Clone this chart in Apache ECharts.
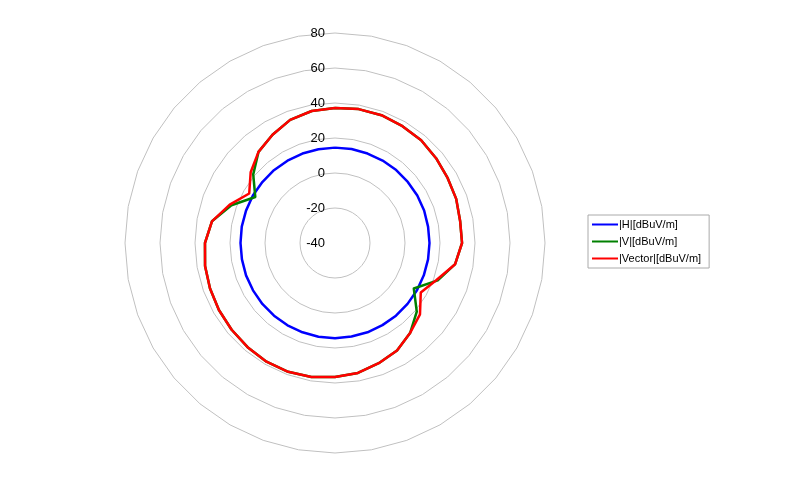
<!DOCTYPE html>
<html><head><meta charset="utf-8">
<script src="https://cdn.jsdelivr.net/npm/echarts@6/dist/echarts.min.js"></script>
<style>html,body{margin:0;padding:0;background:#fff}#c{width:800px;height:487px}</style>
</head><body><div id="c"></div>
<script>
// angles in degrees (math convention, counterclockwise from east), 10° steps
var angles = [];
for (var a = 0; a < 360; a += 10) angles.push(a);
var hValues = [14,14,14.2,14.3,14.3,14.4,14.4,14.4,14.5,14.5,14.4,14.4,14.3,14.3,14.2,14.2,14.1,14.1,14,14,14.1,14.1,14.2,14.2,14.3,14.3,14.4,14.4,14.3,14.3,14.2,14.2,14.1,14.1,14,14];
var vValues = [32.6,32.6,33.7,34.3,35.4,36.6,37.1,37.7,37.7,37.1,36.6,34.9,31.4,28,21,12.6,23,31.4,34.3,35.4,36,36.6,37.1,37.7,38.3,38.3,37.7,36.6,35.4,33.1,30.9,26.9,21,12,22.5,29.7];
var vecValues = [32.6,32.6,33.7,34.3,35.4,36.6,37.1,37.7,37.7,37.1,36.6,34.9,31.4,28,22.9,16.6,24,31.4,34.3,35.4,36,36.6,37.1,37.7,38.3,38.3,37.7,36.6,35.4,33.1,30.9,26.9,23.4,16.6,21.7,29.7];
var tickLabels = ['-40','-20','0','20','40','60','80'];
var names = ['|H|[dBuV/m]','|V|[dBuV/m]','|Vector|[dBuV/m]'];
var colors = ['#0000ff','#008000','#ff0000'];

function reorder(vals){ var out=[]; for (var i=0;i<36;i++){ var ang=(90+i*10)%360; out.push(vals[angles.indexOf(ang)]); } return out; }
var indicator = angles.map(function(){ return {min:-40, max:80}; });
var series = [hValues, vValues, vecValues].map(function(v, k){
  return {type:'radar', name:names[k], symbol:'none', z: 2+k,
    lineStyle:{color:colors[k], width:2.5}, itemStyle:{color:colors[k]},
    data:[{name:names[k], value:reorder(v)}]};
});
var chart = echarts.init(document.getElementById('c'));
chart.setOption({
  animation:false,
  textStyle:{fontFamily:'Liberation Sans, Arial, sans-serif'},
  radar:{center:[335,243], radius:210, startAngle:90, splitNumber:6, shape:'polygon',
    indicator:indicator, axisName:{show:false},
    axisLine:{show:false}, axisTick:{show:false}, axisLabel:{show:false},
    splitArea:{show:false}, splitLine:{lineStyle:{color:'#c0c0c0', width:1}}},
  polar:{center:[335,243], radius:210},
  angleAxis:{type:'value', startAngle:90, show:false, min:0, max:360},
  radiusAxis:{type:'value', min:-40, max:80, interval:20, axisLine:{show:false}, axisTick:{show:false},
    splitLine:{show:false}, z:10,
    axisLabel:{color:'#000', fontSize:13, margin:10, formatter:function(v){return tickLabels[tickLabels.indexOf(String(v))];}}},
  legend:{orient:'vertical', left:588, top:215, data:names, borderColor:'#aaaaaa', borderWidth:1, borderRadius:0,
    padding:[4,8,4,4], itemGap:6, itemWidth:26, itemHeight:10, icon:'path://M0,4 L26,4 L26,6 L0,6 Z',
    textStyle:{color:'#000', fontSize:11, padding:[0,0,0,-4]}},
  series:series
});
</script></body></html>
